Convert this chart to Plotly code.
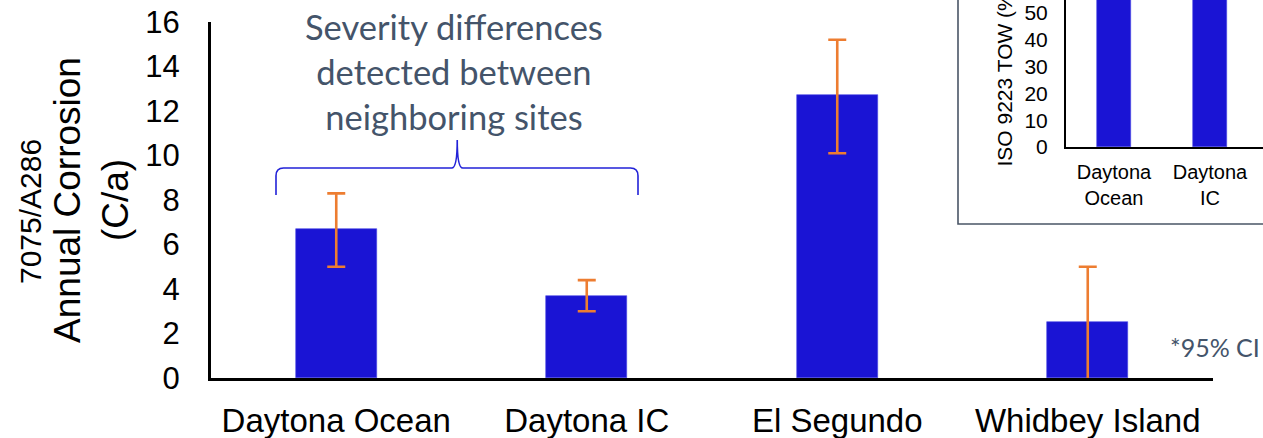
import plotly.graph_objects as go

# Annual corrosion of 7075/A286 couples at four exposure sites (95% CI bounds)
sites = ["Daytona Ocean", "Daytona IC", "El Segundo", "Whidbey Island"]
corrosion = [6.7, 3.7, 12.7, 2.5]
ci_upper = [8.3, 4.4, 15.2, 5.0]
ci_lower = [5.0, 3.0, 10.1, -0.1]
y_ticks = [0, 2, 4, 6, 8, 10, 12, 14, 16]

# Inset: ISO 9223 time of wetness for the two Daytona sites
tow_sites = ["Daytona<br>Ocean", "Daytona<br>IC"]
tow_values = [78, 74]
tow_ticks = [0, 10, 20, 30, 40, 50]

W, H = 1263, 438
BAR = "#1A14D4"
ORANGE = "#ED7D31"
SLATE = "#44546A"
AXIS_FONT = "Liberation Sans, Arial, sans-serif"
NOTE_FONT = "Lato, Carlito, Calibri, sans-serif"


def px_x(p):
    return p / W


def px_y(p):
    return 1 - p / H


x_pos = list(range(len(sites)))
err_plus = [u - v for u, v in zip(ci_upper, corrosion)]
err_minus = [v - l for v, l in zip(corrosion, ci_lower)]

fig = go.Figure()
fig.add_trace(go.Bar(
    x=x_pos, y=corrosion, width=0.325,
    marker=dict(color=BAR, line=dict(color="#4A46E6", width=0.6)),
    error_y=dict(type="data", symmetric=False, array=err_plus, arrayminus=err_minus,
                 color=ORANGE, thickness=2.6, width=9),
    xaxis="x", yaxis="y", showlegend=False,
))
fig.add_trace(go.Bar(
    x=list(range(len(tow_sites))), y=tow_values, width=0.35,
    marker=dict(color=BAR, line=dict(color="#4A46E6", width=0.6)),
    xaxis="x2", yaxis="y2", showlegend=False,
))

# inset frame
shapes = [dict(type="rect", xref="paper", yref="paper",
               x0=px_x(958), x1=1.02, y0=px_y(224), y1=1.05,
               line=dict(color="#4A5566", width=1.6), fillcolor="white", layer="below")]

# curly brace spanning the two Daytona sites (data coordinates)
xl, xr, xt = -0.2405, 1.2046, 0.483
yb, ym, yt = 8.22, 9.44, 10.70
brace = (f"M {xl},{yb} L {xl},{ym-0.35} Q {xl},{ym} {xl+0.03},{ym} "
         f"L {xt-0.022},{ym} Q {xt},{ym} {xt},{yt} "
         f"Q {xt},{ym} {xt+0.022},{ym} "
         f"L {xr-0.03},{ym} Q {xr},{ym} {xr},{ym-0.35} L {xr},{yb}")
shapes.append(dict(type="path", xref="x", yref="y", path=brace,
                   line=dict(color="#2222D8", width=1.6)))

annotations = [
    dict(text="Severity differences<br>detected between<br>neighboring sites",
         xref="paper", yref="paper", x=px_x(453.5), y=px_y(4), xanchor="center",
         yanchor="top", showarrow=False, align="center",
         font=dict(family=NOTE_FONT, size=34.5, color=SLATE)),
    dict(text="*95% CI", xref="paper", yref="paper", x=px_x(1168), y=px_y(347),
         xanchor="left", yanchor="middle", showarrow=False,
         font=dict(family=NOTE_FONT, size=25, color=SLATE)),
    dict(text="7075/A286", xref="paper", yref="paper", x=px_x(30), y=px_y(212),
         xanchor="center", yanchor="middle", textangle=-90, showarrow=False,
         font=dict(family=AXIS_FONT, size=30, color="black")),
    dict(text="ISO 9223 TOW (%)", xref="paper", yref="paper", x=px_x(1004), y=px_y(168),
         xanchor="center", yanchor="bottom", textangle=-90, showarrow=False,
         font=dict(family=AXIS_FONT, size=21, color="black")),
]

fig.update_layout(
    width=W, height=H,
    margin=dict(l=0, r=0, t=0, b=0, autoexpand=False),
    paper_bgcolor="white", plot_bgcolor="rgba(0,0,0,0)",
    bargap=0, showlegend=False,
    shapes=shapes, annotations=annotations,
    xaxis=dict(domain=[px_x(211), px_x(1213)], range=[-0.5, 3.5],
               tickvals=x_pos, ticktext=sites, ticks="", ticklabelstandoff=11,
               showline=True, linecolor="black", linewidth=3, showgrid=False,
               zeroline=False, tickfont=dict(family=AXIS_FONT, size=33, color="black"),
               anchor="y"),
    yaxis=dict(domain=[px_y(378), px_y(22)], range=[0, 16], tickvals=y_ticks,
               ticks="", ticklabelstandoff=22, showline=True, linecolor="black",
               linewidth=3, showgrid=False, zeroline=False,
               tickfont=dict(family=AXIS_FONT, size=31, color="black"),
               title=dict(text="Annual Corrosion<br>(C/a)", standoff=6,
                          font=dict(family=AXIS_FONT, size=37, color="black")),
               anchor="x"),
    xaxis2=dict(domain=[px_x(1066), 1], range=[-0.5, -0.5 + (W - 1066) / 96],
                tickvals=list(range(len(tow_sites))), ticktext=tow_sites, ticks="",
                ticklabelstandoff=6, showline=True, linecolor="black", linewidth=2,
                showgrid=False, zeroline=False,
                tickfont=dict(family=AXIS_FONT, size=20, color="black"), anchor="y2"),
    yaxis2=dict(domain=[px_y(147), 1], range=[0, 147 / 2.68], tickvals=tow_ticks,
                ticks="", ticklabelstandoff=12, showline=True, linecolor="black",
                linewidth=2, showgrid=False, zeroline=False,
                tickfont=dict(family=AXIS_FONT, size=21, color="black"), anchor="x2"),
)

fig.write_html("out.html")
